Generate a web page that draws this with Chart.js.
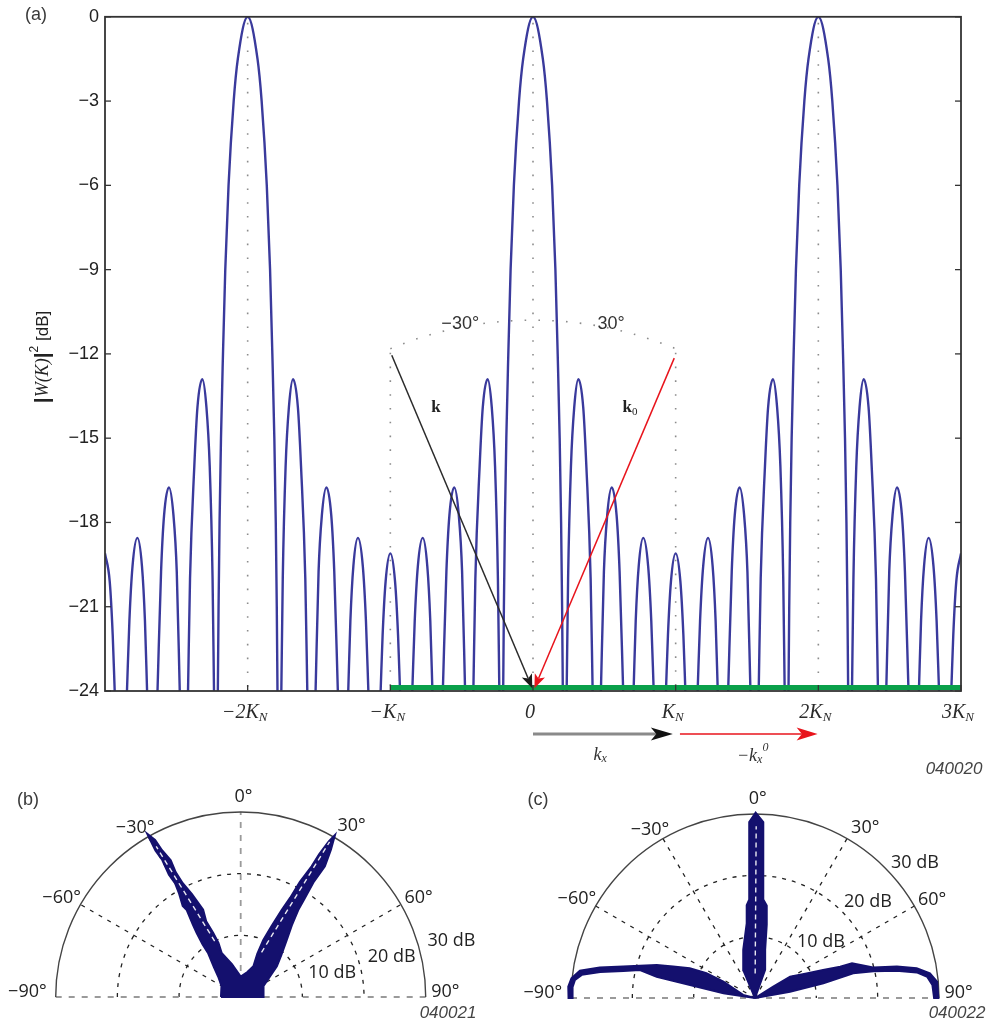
<!DOCTYPE html>
<html>
<head>
<meta charset="utf-8">
<script src="https://cdn.jsdelivr.net/npm/chart.js@4.4.0/dist/chart.umd.min.js"></script>
<style>
  html, body { margin: 0; padding: 0; background: #fff; }
  body { width: 990px; height: 1023px; position: relative; overflow: hidden; }
  canvas { position: absolute; }
  #chartA { left: 0; top: 0; }
  #chartB { left: 0; top: 785px; }
  #chartC { left: 495px; top: 785px; }
</style>
</head>
<body>
<canvas id="chartA" width="990" height="785"></canvas>
<canvas id="chartB" width="490" height="238"></canvas>
<canvas id="chartC" width="495" height="238"></canvas>
<script>
// (a) array pattern: one half period, K in units of K_N
const gratingCentres = [-2, 0, 2];
const mainLobeK = [0, 0.069, 0.098, 0.134, 0.157, 0.173, 0.187, 0.197, 0.204, 0.209];
const mainLobeDb = [0, -1.5, -3, -6, -9, -12, -15, -18, -21, -24];
const sideLobeK = [
  [0.236, 0.246, 0.266, 0.289, 0.318, 0.352, 0.374, 0.404, 0.418],
  [0.476, 0.497, 0.52, 0.552, 0.586, 0.607, 0.632],
  [0.705, 0.72, 0.741, 0.773, 0.807, 0.829, 0.846],
];
const sideLobeDb = [
  [-24, -20, -16, -13.9, -12.9, -13.9, -16, -20, -24],
  [-24, -19.75, -17.75, -16.75, -17.75, -19.75, -24],
  [-24, -21.5, -19.55, -18.55, -19.55, -21.5, -24],
];
const edgeLobeK = [0.932, 0.946, 0.967, 1.0];
const edgeLobeDb = [-24, -22, -20.1, -19.1];

const kTicks = [-2, -1, 0, 1, 2, 3];
const kTickLabels = ['−2K_N', '−K_N', '0', 'K_N', '2K_N', '3K_N'];
const dbMin = -24, dbMax = 0, dbStep = 3;

// (b) scattered intensity vs angle (deg, dB)
const bLobeAngles = [-90, -60, -48, -42, -36.6, -36, -34.5, -33.5, -31.8, -32.5, -30.8, -30, -30.4, -29.8, -30.2, -29.8,
  -28.6, -28.2, -27.1, -27.5, -27, -25.4, -23.3, -24.5, -23.2, -22.3, -23.4, -15, 0,
  15, 22.4, 21, 21.6, 23.5, 25.2, 26.5, 27.2, 28.5, 28.8, 29.5, 30.2,
  31.5, 32.8, 32.4, 33, 33.5, 35.5, 38.9, 44, 49.6, 65, 90, 0, -90];
const bLobeDb = [3.2, 3.6, 4.9, 6.5, 8.9, 10.5, 12.6, 14.0, 16.6, 17.5, 19.5, 21.3, 23, 25.6, 27.5, 30.5,
  29.0, 27, 24.9, 22.8, 20.7, 18.5, 15.4, 13.5, 11.3, 9.5, 7.8, 5.5, 3.3,
  4.2, 5.4, 7.5, 9.9, 12.5, 15.6, 18, 21, 24.1, 26.5, 29, 30.4,
  28, 25.2, 22, 19, 16.9, 14.3, 11.9, 9.5, 7.7, 4.0, 3.7, 0, 3.2];
const bStreakAngles = [[-25, -29.3], [25, 29.8]];
const bStreakDb = [[10, 28], [8, 29]];

// (c) scattered intensity vs angle (deg, dB)
const cSpikeAngles = [0, -22.7, -13.7, -6.5, -5.1, -3.3, -2.8, -2.2, -1.9, 0.2, 2.7, 3.2, 4.0, 4.8, 7.2, 9.1, 11.8, 19.7, 0];
const cSpikeDb = [0, 4.9, 8.1, 12.1, 15.2, 16.1, 19.3, 24.2, 28.7, 30.2, 28.7, 24.2, 19.3, 16.1, 15.2, 12.1, 8.1, 4.9, 0];
const cLeftAngles = [0, -75.6, -62.8, -62.9, -65.4, -69, -71.4, -74.3, -76.6, -78.9, -81.1, -83.9, -86.5, -90,
  -90, -86.6, -84.3, -82.4, -80.5, -78.4, -76.3, -77.8, -78.7, -81.6, 0];
const cLeftDb = [0, 2.0, 5.8, 8.9, 11.7, 14.3, 16.9, 19.5, 22.1, 25.8, 28.9, 30.1, 30.5, 30.4,
  29.8, 29.8, 29.5, 28.5, 25.6, 21.9, 19.3, 16.4, 10.8, 5.2, 0];
const cRightAngles = [0, 58.3, 58.7, 64.5, 67.7, 69.8, 70.3, 75.5, 77.5, 79.6, 82, 84.9, 90,
  90, 85.8, 83, 81, 79.1, 77.3, 75.9, 77.9, 79.8, 0];
const cRightDb = [0, 3.5, 6.7, 9.3, 12.0, 14.8, 16.8, 19.9, 23.7, 26.8, 28.8, 29.8, 29.9,
  29.2, 29.0, 28.3, 26.7, 23.5, 19.8, 16.5, 11.4, 5.8, 0];
const cStreakAngles = [[0.4, 0.4]];
const cStreakDb = [[4, 28]];

// polar grid
const ringDb = [10, 20, 30];
const spokeAngles = [-60, -30, 30, 60];
const angleLabelAngles = [-88.5, -61, -32, 0.8, 33, 61, 88.5];
const angleLabelRadii = [34.6, 33.2, 32.3, 32.5, 33, 33, 33.2];
const angleLabels = ['−90°', '−60°', '−30°', '0°', '30°', '60°', '90°'];

const SANS = 'Liberation Sans';
const SERIF = 'Liberation Serif';
const NAVY = '#14106e';

function lobe(ks, dbs, centre, side) {
  return ks.map((k, i) => ({x: centre + side * k, y: dbs[i]}));
}

const segments = [];
gratingCentres.forEach((c, g) => {
  if (g === 0) segments.push(lobe(edgeLobeK, edgeLobeDb, c, -1).reverse());
  for (let s = sideLobeK.length - 1; s >= 0; s--) {
    segments.push(lobe(sideLobeK[s], sideLobeDb[s], c, -1).reverse());
  }
  const main = lobe(mainLobeK, mainLobeDb, c, -1).reverse();
  segments.push(main.concat(lobe(mainLobeK, mainLobeDb, c, 1).slice(1)));
  sideLobeK.forEach((ks, s) => segments.push(lobe(ks, sideLobeDb[s], c, 1)));
  const edge = lobe(edgeLobeK, edgeLobeDb, c, 1);
  if (g < gratingCentres.length - 1) {
    edge.push(...lobe(edgeLobeK, edgeLobeDb, gratingCentres[g + 1], -1).reverse().slice(1));
  }
  segments.push(edge);
});
const patternPoints = [];
segments.forEach((seg, i) => {
  if (i) patternPoints.push({x: (patternPoints[patternPoints.length - 1].x + seg[0].x) / 2, y: null});
  patternPoints.push(...seg);
});

function toXY(angles, dbs) {
  return angles.map((a, i) => ({
    x: dbs[i] * Math.sin(a * Math.PI / 180),
    y: dbs[i] * Math.cos(a * Math.PI / 180),
  }));
}

function drawRuns(ctx, runs, x, y, align) {
  let total = 0;
  runs.forEach((r) => { ctx.font = r.font; r.w = ctx.measureText(r.text).width; total += r.w; });
  let cx = align === 'center' ? x - total / 2 : align === 'right' ? x - total : x;
  ctx.textAlign = 'left';
  ctx.textBaseline = 'middle';
  runs.forEach((r) => { ctx.font = r.font; ctx.fillText(r.text, cx, y + (r.dy || 0)); cx += r.w; });
}

function arrow(ctx, x1, y1, x2, y2, lineColor, lineWidth, headColor, headLen, headHalf) {
  const a = Math.atan2(y2 - y1, x2 - x1);
  const cos = Math.cos(a), sin = Math.sin(a);
  const bx = x2 - headLen * cos, by = y2 - headLen * sin;
  const nx = x2 - headLen * 0.75 * cos, ny = y2 - headLen * 0.75 * sin;
  ctx.strokeStyle = lineColor;
  ctx.lineWidth = lineWidth;
  ctx.beginPath();
  ctx.moveTo(x1, y1);
  ctx.lineTo(nx, ny);
  ctx.stroke();
  ctx.fillStyle = headColor;
  ctx.beginPath();
  ctx.moveTo(x2, y2);
  ctx.lineTo(bx + headHalf * sin, by - headHalf * cos);
  ctx.lineTo(nx, ny);
  ctx.lineTo(bx - headHalf * sin, by + headHalf * cos);
  ctx.closePath();
  ctx.fill();
}

function seg(ctx, x1, y1, x2, y2) {
  ctx.beginPath();
  ctx.moveTo(x1, y1);
  ctx.lineTo(x2, y2);
  ctx.stroke();
}

const figureAPlugin = {
  id: 'figureA',
  beforeDatasetsDraw(chart) {
    const {ctx, chartArea: area, scales: {x, y}} = chart;
    const px = (v) => x.getPixelForValue(v), py = (v) => y.getPixelForValue(v);
    ctx.save();
    ctx.strokeStyle = '#8c8c8c';
    ctx.lineWidth = 1.6;
    ctx.setLineDash([1.6, 12.2]);
    gratingCentres.forEach((c) => seg(ctx, px(c), area.top + 6, px(c), area.bottom));
    const ox = px(0), oy = py(-24), r = oy - py(-10.8);
    const half = Math.asin((px(1) - ox) / r);
    ctx.beginPath();
    ctx.arc(ox, oy, r, -Math.PI / 2 - half, -Math.PI / 2 + half);
    ctx.stroke();
    const endY = oy - r * Math.cos(half);
    [-1, 1].forEach((k) => seg(ctx, px(k), endY + 4, px(k), area.bottom));
    ctx.restore();
  },
  afterDatasetsDraw(chart) {
    const {ctx, chartArea: area, scales: {x, y}} = chart;
    const px = (v) => x.getPixelForValue(v), py = (v) => y.getPixelForValue(v);
    ctx.save();
    // green band along the bottom
    ctx.fillStyle = '#0aa04a';
    ctx.fillRect(px(-1), area.bottom - 6, px(3) - px(-1), 5);
    // frame and inward ticks
    ctx.strokeStyle = '#333';
    ctx.lineWidth = 1.8;
    ctx.strokeRect(area.left, area.top, area.right - area.left, area.bottom - area.top);
    ctx.lineWidth = 1.3;
    for (let v = dbMin; v <= dbMax; v += dbStep) {
      seg(ctx, area.left, py(v), area.left + 6, py(v));
      seg(ctx, area.right, py(v), area.right - 6, py(v));
    }
    kTicks.forEach((k) => seg(ctx, px(k), area.bottom, px(k), area.bottom - 6));
    // arrows k and k0
    arrow(ctx, px(-0.99), py(-12.05), px(-0.005), py(-23.9), '#2b2b2b', 1.5, '#1a1a1a', 14, 5.5);
    arrow(ctx, px(0.99), py(-12.15), px(0.01), py(-23.9), '#e8141c', 1.5, '#e8141c', 14, 5.5);
    // x tick labels
    ctx.fillStyle = '#2a2a2a';
    kTicks.forEach((k, i) => {
      const [main, sub] = kTickLabels[i].split('_');
      const runs = [{text: main, font: `italic 20px ${SERIF}`}];
      if (sub) runs.push({text: sub, font: `italic 13px ${SERIF}`, dy: 5});
      drawRuns(ctx, runs, px(k) - 3, area.bottom + 22, 'center');
    });
    // angle labels on the arc
    ctx.fillStyle = '#333';
    drawRuns(ctx, [{text: '−30°', font: `18px ${SANS}`}], px(-0.51), py(-10.93), 'center');
    drawRuns(ctx, [{text: '30°', font: `18px ${SANS}`}], px(0.547), py(-10.93), 'center');
    // k labels
    ctx.fillStyle = '#222';
    drawRuns(ctx, [{text: 'k', font: `bold 17px ${SERIF}`}], px(-0.68), py(-13.92), 'center');
    drawRuns(ctx, [{text: 'k', font: `bold 17px ${SERIF}`}, {text: '0', font: `11px ${SERIF}`, dy: 4}], px(0.68), py(-13.92), 'center');
    // k_x arrows under the axis
    const ay = area.bottom + 43;
    arrow(ctx, px(0), ay, px(0.98), ay, '#8a8a8a', 3, '#111', 22, 6.5);
    arrow(ctx, px(1.03), ay, px(1.995), ay, '#e8141c', 1.5, '#e8141c', 21, 6.5);
    ctx.fillStyle = '#333';
    drawRuns(ctx, [{text: 'k', font: `italic 18px ${SERIF}`}, {text: 'x', font: `italic 12px ${SERIF}`, dy: 4}], px(0.47), ay + 21, 'center');
    drawRuns(ctx, [{text: '−k', font: `italic 18px ${SERIF}`}, {text: 'x', font: `italic 12px ${SERIF}`, dy: 4},
      {text: '0', font: `italic 12px ${SERIF}`, dy: -8}], px(1.54), ay + 22, 'center');
    // figure code
    ctx.fillStyle = '#444';
    drawRuns(ctx, [{text: '040020', font: `italic 17px ${SANS}`}], 954, 769, 'center');
    // panel label
    ctx.fillStyle = '#3a3a3a';
    drawRuns(ctx, [{text: '(a)', font: `18px ${SANS}`}], 36, 15, 'center');
    // y title
    ctx.translate(43, 357);
    ctx.rotate(-Math.PI / 2);
    ctx.fillStyle = '#222';
    drawRuns(ctx, [
      {text: '|', font: `bold 21px ${SANS}`},
      {text: 'W(K)', font: `italic 18px ${SERIF}`},
      {text: '|', font: `bold 21px ${SANS}`},
      {text: '2', font: `12px ${SANS}`, dy: -8},
      {text: ' [dB]', font: `17px ${SANS}`},
    ], 0, 0, 'center');
    ctx.restore();
  },
};

new Chart(document.getElementById('chartA'), {
  type: 'line',
  data: {
    datasets: [{
      data: patternPoints,
      borderColor: '#3a3a9c',
      borderWidth: 2.4,
      pointRadius: 0,
      cubicInterpolationMode: 'monotone',
      spanGaps: false,
      fill: false,
      clip: 0,
    }],
  },
  options: {
    responsive: false,
    animation: false,
    devicePixelRatio: 1,
    layout: {padding: {left: 0, top: 15, right: 29, bottom: 94}},
    plugins: {legend: {display: false}, tooltip: {enabled: false}},
    scales: {
      x: {type: 'linear', min: -3, max: 3, display: false},
      y: {
        type: 'linear',
        min: dbMin,
        max: dbMax,
        afterFit: (scale) => { scale.width = 105; },
        grid: {display: false, drawTicks: false},
        border: {display: false},
        ticks: {
          stepSize: dbStep,
          padding: 6,
          color: '#222',
          font: {family: SANS, size: 18},
          callback: (v) => (v === 0 ? '0' : '−' + Math.abs(v)),
        },
      },
    },
  },
  plugins: [figureAPlugin],
});

const polarGridPlugin = {
  id: 'polarGrid',
  beforeDatasetsDraw(chart, args, opts) {
    const {ctx, scales: {x, y}} = chart;
    const cx = x.getPixelForValue(0), cy = y.getPixelForValue(0);
    const u = x.getPixelForValue(1) - cx;
    const outer = ringDb[ringDb.length - 1] * u;
    ctx.save();
    ctx.strokeStyle = '#222';
    ctx.lineWidth = 1.3;
    ctx.setLineDash([4, 6]);
    ringDb.slice(0, -1).forEach((r) => {
      ctx.beginPath();
      ctx.arc(cx, cy, r * u, Math.PI, 2 * Math.PI);
      ctx.stroke();
    });
    spokeAngles.forEach((a) => {
      const t = a * Math.PI / 180;
      seg(ctx, cx, cy, cx + outer * Math.sin(t), cy - outer * Math.cos(t));
    });
    ctx.strokeStyle = '#9a9a9a';
    ctx.lineWidth = 1.8;
    ctx.setLineDash([6, 7]);
    seg(ctx, cx, cy, cx, cy - outer);
    ctx.lineWidth = 2.2;
    seg(ctx, cx - outer, cy, cx + outer, cy);
    ctx.setLineDash([]);
    ctx.strokeStyle = '#444';
    ctx.lineWidth = 1.4;
    ctx.beginPath();
    ctx.arc(cx, cy, outer, Math.PI, 2 * Math.PI);
    ctx.stroke();
    ctx.restore();
  },
  afterDatasetsDraw(chart, args, opts) {
    const {ctx, scales: {x, y}} = chart;
    const cx = x.getPixelForValue(0), cy = y.getPixelForValue(0);
    const u = x.getPixelForValue(1) - cx;
    ctx.save();
    ctx.fillStyle = '#222';
    angleLabelAngles.forEach((a, i) => {
      const t = a * Math.PI / 180, r = angleLabelRadii[i] * u;
      drawRuns(ctx, [{text: angleLabels[i], font: `18px 'Open Sans'`}], cx + r * Math.sin(t), cy - r * Math.cos(t), 'center');
    });
    const t = opts.ringLabelAngle * Math.PI / 180;
    ringDb.forEach((r) => {
      const rx = cx + r * u * Math.sin(t) + opts.ringLabelDx;
      const ry = cy - r * u * Math.cos(t) + opts.ringLabelDy;
      drawRuns(ctx, [{text: r + ' dB', font: `18px 'Open Sans'`}], rx, ry - 8, 'left');
    });
    ctx.fillStyle = '#3a3a3a';
    drawRuns(ctx, [{text: opts.panel, font: `18px ${SANS}`}], opts.panelX, 15, 'center');
    ctx.fillStyle = '#444';
    drawRuns(ctx, [{text: opts.code, font: `italic 17px ${SANS}`}], opts.codeX, 228, 'center');
    ctx.restore();
  },
};

function lobeSet(angles, dbs) {
  return {
    data: toXY(angles, dbs),
    showLine: true,
    fill: 'shape',
    backgroundColor: NAVY,
    borderColor: NAVY,
    borderWidth: 2,
    pointRadius: 0,
    clip: false,
    order: 2,
  };
}

function streakSet(angles, dbs) {
  return {
    data: toXY(angles, dbs),
    showLine: true,
    fill: false,
    borderColor: 'rgba(255,255,255,0.9)',
    borderWidth: 1.4,
    borderDash: [5, 4],
    pointRadius: 0,
    clip: false,
    order: 1,
  };
}

function polarChart(id, datasets, grid) {
  return new Chart(document.getElementById(id), {
    type: 'scatter',
    data: {datasets},
    options: {
      responsive: false,
      animation: false,
      devicePixelRatio: 1,
      layout: {padding: grid.padding},
      plugins: {legend: {display: false}, tooltip: {enabled: false}, polarGrid: grid},
      scales: {
        x: {type: 'linear', min: -36, max: 36, display: false},
        y: {type: 'linear', min: 0, max: 33, display: false},
      },
    },
    plugins: [polarGridPlugin],
  });
}

polarChart('chartB', [
  lobeSet(bLobeAngles, bLobeDb),
  ...bStreakAngles.map((a, i) => streakSet(a, bStreakDb[i])),
], {
  padding: {left: 18.7, right: 27.3, top: 8.5, bottom: 26},
  ringLabelAngle: 75, ringLabelDx: 8, ringLabelDy: 0,
  panel: '(b)', panelX: 28, code: '040021', codeX: 448,
});

polarChart('chartC', [
  lobeSet(cLeftAngles, cLeftDb),
  lobeSet(cRightAngles, cRightDb),
  lobeSet(cSpikeAngles, cSpikeDb),
  ...cStreakAngles.map((a, i) => streakSet(a, cStreakDb[i])),
], {
  padding: {left: 39.2, right: 14.2, top: 10.6, bottom: 25},
  ringLabelAngle: 50, ringLabelDx: -5, ringLabelDy: -9,
  panel: '(c)', panelX: 43, code: '040022', codeX: 462,
});
</script>
</body>
</html>
